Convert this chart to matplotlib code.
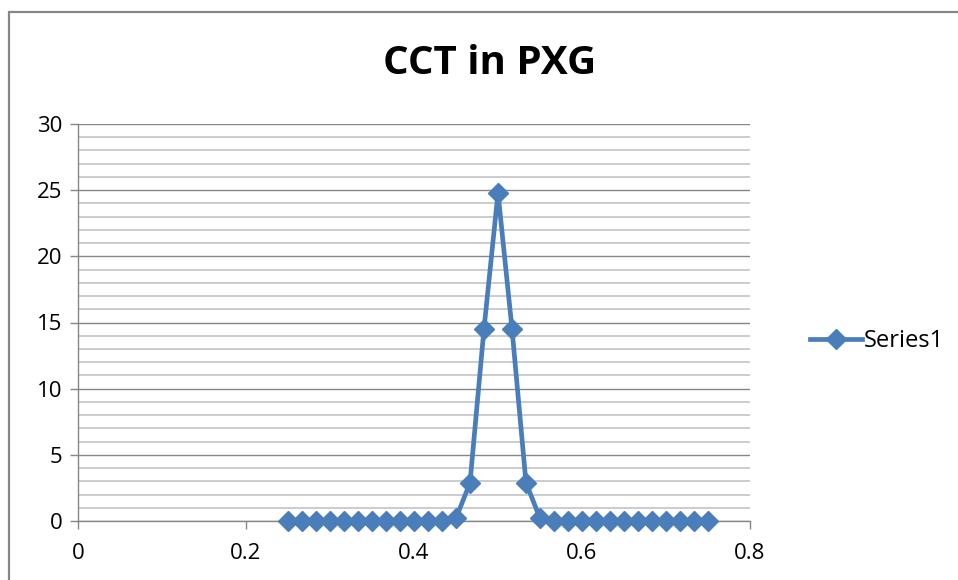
import matplotlib
matplotlib.use("Agg")
import matplotlib.pyplot as plt
from matplotlib.lines import Line2D
from matplotlib.ticker import MultipleLocator

x_values = [0.25, 0.2667, 0.2833, 0.3, 0.3167, 0.3333, 0.35, 0.3667, 0.3833, 0.4,
            0.4167, 0.4333, 0.45, 0.4667, 0.4833, 0.5, 0.5167, 0.5333, 0.55, 0.5667,
            0.5833, 0.6, 0.6167, 0.6333, 0.65, 0.6667, 0.6833, 0.7, 0.7167, 0.7333, 0.75]
y_values = [0, 0, 0, 0, 0, 0, 0, 0, 0, 0,
            0, 0, 0.2, 2.9, 14.5, 24.8, 14.5, 2.9, 0.2, 0,
            0, 0, 0, 0, 0, 0, 0, 0, 0, 0, 0]
series_name = "Series1"
title = "CCT in PXG"
x_ticks = [0, 0.2, 0.4, 0.6, 0.8]
x_tick_labels = ["0", "0.2", "0.4", "0.6", "0.8"]
y_ticks = [0, 5, 10, 15, 20, 25, 30]

plt.rcParams['font.family'] = ['Open Sans', 'DejaVu Sans']
W, H = 958, 580
fig = plt.figure(figsize=(W / 100, H / 100), dpi=100)

color = "#4A7EBB"
ax = fig.add_axes([78 / W, (H - 521) / H, (750 - 78) / W, (521 - 124) / H])
ax.plot(x_values, y_values, color=color, lw=3.4, marker="D", markersize=10,
        markeredgecolor=color, markerfacecolor=color, zorder=5, clip_on=False)

ax.set_xlim(0, 0.8)
ax.set_ylim(0, 30)
ax.set_xticks(x_ticks)
ax.set_xticklabels(x_tick_labels)
ax.set_yticks(y_ticks)
ax.yaxis.set_minor_locator(MultipleLocator(1))
ax.grid(which="minor", axis="y", color="#C8C8C8", lw=1.3)
ax.grid(which="major", axis="y", color="#868686", lw=1.0)
ax.set_axisbelow(True)
for s in ["top", "right"]:
    ax.spines[s].set_visible(False)
for s in ["left", "bottom"]:
    ax.spines[s].set_color("#868686")
    ax.spines[s].set_linewidth(1.0)
ax.tick_params(axis="both", which="major", direction="out", length=6, width=1.0,
               color="#868686", labelsize=16, pad=5)
ax.tick_params(axis="y", which="minor", length=0)
ax.tick_params(axis="x", pad=10)

fig.text(490 / W, 1 - 64 / H, title, ha="center", va="center", fontsize=29,
         fontweight="bold")

handle = Line2D([0], [0], color=color, lw=3.4, marker="D", markersize=10)
leg = fig.legend([handle], [series_name], loc="center left",
                 bbox_to_anchor=(798 / W, 1 - 341 / H), frameon=False,
                 fontsize=17, handlelength=2.2, handletextpad=0.1, borderpad=0)

border = plt.Rectangle((9 / W, -0.1), 1.2, 1 - 12 / H + 0.1, transform=fig.transFigure,
                       fill=False, edgecolor="#868686", lw=1.6)
fig.add_artist(border)

fig.savefig("out.png", dpi=100)
